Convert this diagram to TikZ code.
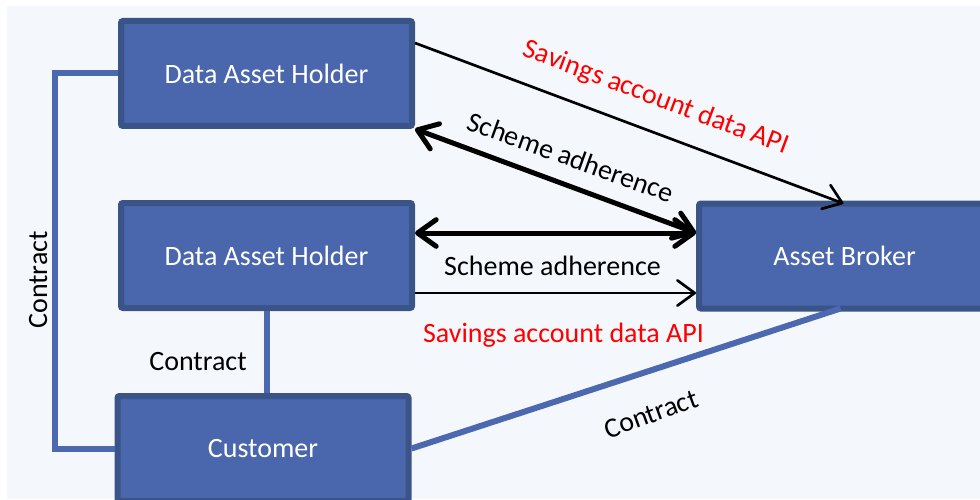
\documentclass[tikz,border=0pt]{standalone}
\usepackage{fontspec}
\setmainfont{Carlito}
\usetikzlibrary{arrows.meta,calc}
\definecolor{bg}{HTML}{F4F8FC}
\definecolor{boxfill}{HTML}{4A66AC}
\definecolor{boxline}{HTML}{3A5488}
\definecolor{contractc}{HTML}{4C69AF}
\definecolor{apired}{HTML}{FF0000}
\begin{document}
\begin{tikzpicture}[x=0.75pt,y=-0.75pt,
  box/.style={draw=boxline, fill=boxfill, line width=4.5pt, rounded corners=1.5pt,
    minimum width=218.25pt, minimum height=78.75pt, text=white,
    font=\fontsize{21}{25}\selectfont, inner sep=0pt},
  contract/.style={draw=contractc, line width=4.5pt},
  lbl/.style={font=\fontsize{21}{25}\selectfont, inner sep=0pt},
  apiarrow/.style={line width=2pt, -{Straight Barb[length=13pt,width=19pt,round]}},
  schemearrow/.style={line width=3.75pt,
    {Straight Barb[length=14pt,width=20pt,round]}-{Straight Barb[length=14pt,width=20pt,round]}}]
\useasboundingbox (0,0) rectangle (980,499);
\clip (0,0) rectangle (980,499);
\fill[white] (0,0) rectangle (980,499);
\fill[bg] (7,6) rectangle (980,499);

\node[box] (dah1) at (266.5,73.5) {Data Asset Holder};
\node[box] (dah2) at (266.5,255.5) {Data Asset Holder};
\node[box] (cust) at (263,448.5) {Customer};
\node[box] (ab) at (844.5,256) {Asset Broker};

\draw[contract] (dah1.west) -- ++(-63,0) |- (cust.west);
\draw[contract] (dah2.south) -- (dah2.south |- cust.north);
\draw[contract] (cust.east) -- ($(ab.south)+(-4,-3)$);

\draw[apiarrow] ($(dah1.north east)+(0,25)$) -- ($(ab.north)+(-1,3)$);
\draw[schemearrow] (dah1.south east) -- ($(ab.west)+(0,-23)$);
\draw[schemearrow] ($(dah2.east)+(0,-22.5)$) -- ($(ab.west)+(0,-23)$);
\draw[apiarrow] ($(dah2.east)+(0,37.5)$) -- ($(ab.west)+(0,37)$);

\node[lbl, text=apired, rotate=-20.6] (l1) at (656,98) {Savings account data API};
\node[lbl, rotate=-19.8] (l2) at (571,157) {Scheme adherence};
\node[lbl, anchor=base] (l3) at (552.5,275) {Scheme adherence};
\node[lbl, text=apired, anchor=base] (l4) at (563.5,342) {Savings account data API};
\node[lbl, anchor=base] (l5) at (198,370) {Contract};
\node[lbl, rotate=90, anchor=base] (l6) at (47,280) {Contract};
\node[lbl, rotate=20] (l7) at (651,414) {Contract};
\end{tikzpicture}
\end{document}
